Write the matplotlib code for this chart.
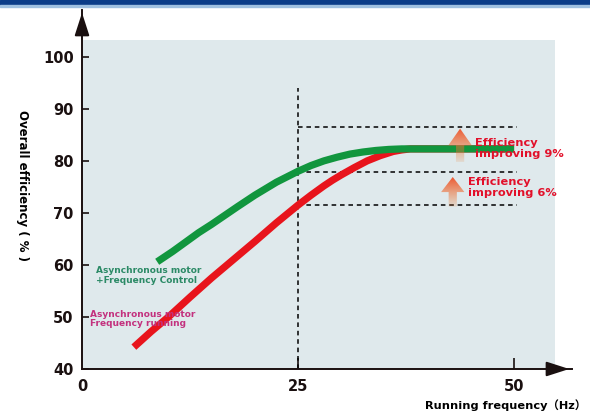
import numpy as np
import matplotlib.pyplot as plt
from matplotlib.patches import Rectangle, Polygon

plt.rcParams['font.family'] = ['DejaVu Sans']

# curve data
green_f = [8.7, 10.5, 12, 13.5, 15, 16.5, 18, 20, 22.5, 25, 26.5, 28, 29.5,
           31, 32.5, 34, 35.5, 37, 50]
green_eff = [60.6, 62.6, 64.4, 66.2, 67.8, 69.5, 71.2, 73.4, 75.9, 78.0, 79.1,
             80.0, 80.7, 81.3, 81.7, 82.0, 82.2, 82.3, 82.3]
red_f = [6.0, 8, 10, 12.5, 15, 17.5, 20, 22.5, 25, 26.5, 28, 29, 30, 31.5,
         33, 34.5, 36, 37, 38, 50]
red_eff = [44.2, 47.2, 50.0, 53.8, 57.5, 61.0, 64.5, 68.1, 71.5, 73.4, 75.2,
           76.3, 77.3, 78.7, 80.0, 81.0, 81.8, 82.1, 82.3, 82.3]

xticks = [0, 25, 50]
yticks = [40, 50, 60, 70, 80, 90, 100]

ref_f = 25
ref_top = 94
levels = [86.6, 77.9, 71.5]
level_end = 50.3

fig = plt.figure(figsize=(5.9, 4.12), dpi=100)
fig.patches.append(Rectangle((0, 0.987), 1, 0.013, transform=fig.transFigure,
                             color='#0b3c88', zorder=0))
fig.patches.append(Rectangle((0, 0.983), 1, 0.004, transform=fig.transFigure,
                             color='#9fc0e0', zorder=0))

ax = fig.add_axes([0.139, 0.1044, 0.8305, 0.8714])
ax.set_xlim(0, 56.7)
ax.set_ylim(40, 109)
ax.set_facecolor('none')
for s in ['top', 'right']:
    ax.spines[s].set_visible(False)
for s in ['left', 'bottom']:
    ax.spines[s].set_linewidth(1.4)
    ax.spines[s].set_color('#1a1010')

ax.add_patch(Rectangle((0, 40), 54.7, 63.3, color='#dfe9ec', zorder=0, lw=0))

# axis arrows
ax.annotate('', xy=(1, 0), xytext=(0.955, 0), xycoords='axes fraction',
            arrowprops=dict(arrowstyle='-|>,head_length=1.4,head_width=0.45',
                            color='#1a1010', lw=1.4), annotation_clip=False)
ax.annotate('', xy=(0, 1), xytext=(0, 0.93), xycoords='axes fraction',
            arrowprops=dict(arrowstyle='-|>,head_length=1.4,head_width=0.45',
                            color='#1a1010', lw=1.4), annotation_clip=False)

ax.set_xticks(xticks)
ax.set_yticks(yticks)
ax.tick_params(axis='y', direction='in', length=5, width=1.2, pad=6,
               labelsize=10.5, colors='#1a1010')
ax.tick_params(axis='x', direction='in', length=8, width=1.2, pad=7,
               labelsize=10.5, colors='#1a1010')
for lab in ax.get_xticklabels() + ax.get_yticklabels():
    lab.set_fontweight('bold')
ax.xaxis.get_major_ticks()[0].tick1line.set_visible(False)

# dashed guide lines
ax.plot([ref_f, ref_f], [40, ref_top], ls=(0, (3, 2.5)), color='k', lw=1.1, zorder=2)
for lv in levels:
    ax.plot([ref_f, level_end], [lv, lv], ls=(0, (3, 2.5)), color='k', lw=1.1, zorder=2)

ax.plot(red_f, red_eff, color='#e8141c', lw=5.2, solid_capstyle='butt',
        solid_joinstyle='round', zorder=3)
ax.plot(green_f, green_eff, color='#11963e', lw=5.2, solid_capstyle='butt',
        solid_joinstyle='round', zorder=4)


def grad_arrow(xc, y0, yb, ytip, hw, sw):
    pts = [(xc - sw / 2, y0), (xc - sw / 2, yb), (xc - hw / 2, yb), (xc, ytip),
           (xc + hw / 2, yb), (xc + sw / 2, yb), (xc + sw / 2, y0)]
    poly = Polygon(pts, closed=True, fc='none', ec='none', transform=ax.transData)
    ax.add_patch(poly)
    g = np.linspace(0, 1, 64).reshape(-1, 1)
    rgba = np.zeros((64, 1, 4))
    rgba[..., 0] = 0.93
    rgba[..., 1] = 0.35 + 0.15 * (1 - g[:, :1])
    rgba[..., 2] = 0.2
    rgba[..., 3] = 0.15 + 0.85 * g
    im = ax.imshow(rgba, extent=[xc - hw / 2, xc + hw / 2, y0, ytip],
                   origin='lower', aspect='auto', zorder=5)
    im.set_clip_path(poly)


grad_arrow(43.75, 79.8, 83.0, 86.2, 2.7, 0.95)
grad_arrow(42.9, 71.2, 74.0, 76.9, 2.7, 0.95)

ax.text(45.5, 82.4, 'Efficiency\nimproving 9%', color='#e2102a', fontsize=8.2,
        fontweight='bold', va='center', ha='left', linespacing=1.15, zorder=6)
ax.text(44.7, 74.9, 'Efficiency\nimproving 6%', color='#e2102a', fontsize=8.2,
        fontweight='bold', va='center', ha='left', linespacing=1.15, zorder=6)

ax.text(1.6, 58.0, 'Asynchronous motor\n+Frequency Control', color='#2b8a66',
        fontsize=6.5, fontweight='bold', va='center', ha='left', linespacing=1.1)
ax.text(0.9, 49.6, 'Asynchronous motor\nFrequency running', color='#c3317e',
        fontsize=6.5, fontweight='bold', va='center', ha='left', linespacing=1.1)

fig.text(22 / 590, 1 - 185 / 412, 'Overall efficiency ( % )', rotation=270,
         fontsize=8.5, fontweight='bold', va='center', ha='center')
fig.text(586 / 590, 1 - 405 / 412, 'Running frequency（Hz）',
         fontsize=8.2, fontweight='bold', va='center', ha='right',
         family=['DejaVu Sans', 'Noto Sans CJK SC'])

fig.savefig('out.png', dpi=100)
